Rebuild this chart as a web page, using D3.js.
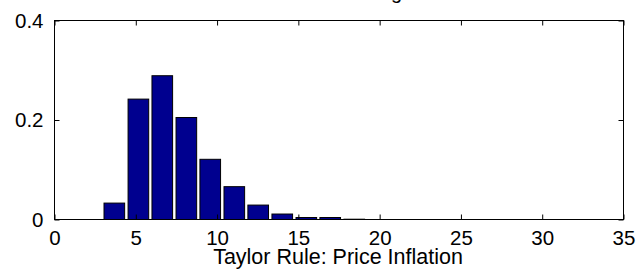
<!DOCTYPE html>
<html>
<head>
<meta charset="utf-8">
<script src="https://cdn.jsdelivr.net/npm/d3@7"></script>
<style>
  body { margin: 0; background: #fff; }
  svg text { font-family: "Liberation Sans", Arial, sans-serif; fill: #000; }
</style>
</head>
<body>
<div id="hist-chart"></div>
<script>
// histogram bins (centres) and relative frequencies
var binCenters = [3.68, 5.16, 6.63, 8.11, 9.58, 11.06, 12.53, 14.01, 15.49, 16.96,
                  18.44, 19.91, 21.39, 22.86, 24.34, 25.82, 27.29, 28.77, 30.24, 31.72];
var frequencies = [0.033, 0.242, 0.289, 0.205, 0.121, 0.066, 0.029, 0.011, 0.004, 0.004,
                   0.0006, 0, 0, 0, 0, 0, 0, 0, 0, 0];
var xTicks = [0, 5, 10, 15, 20, 25, 30, 35];
var yTicks = [0, 0.2, 0.4];
var titleText = "Price Level Target";
var xLabelText = "Taylor Rule: Price Inflation";

var width = 637, height = 272;
var margin = {top: 20.5, right: 13.5, bottom: 52.5, left: 54.5};
var binStep = 1.4756;

var svg = d3.select("#hist-chart").append("svg")
    .attr("width", width)
    .attr("height", height);

var x = d3.scaleLinear().domain([0, 35]).range([margin.left, width - margin.right]);
var y = d3.scaleLinear().domain([0, 0.4]).range([height - margin.bottom, margin.top]);

// bars
svg.selectAll("rect.bar")
    .data(binCenters)
    .enter()
    .append("rect")
    .attr("class", "bar")
    .attr("x", function(d) { return x(d - binStep * 0.43); })
    .attr("width", function(d) { return x(binStep * 0.86) - x(0); })
    .attr("y", function(d, i) { return y(frequencies[i]); })
    .attr("height", function(d, i) { return y(0) - y(frequencies[i]); })
    .attr("fill", "#00008f")
    .attr("stroke", "#000")
    .attr("stroke-width", 1);

// axes (matlab style: ticks inward, on all sides)
var tickLen = 5;
var xAxisBottom = d3.axisBottom(x).tickValues(xTicks).tickSize(-tickLen).tickPadding(tickLen + 6);
var xAxisTop = d3.axisTop(x).tickValues(xTicks).tickSize(-tickLen).tickFormat("");
var yAxisLeft = d3.axisLeft(y).tickValues(yTicks).tickSize(-tickLen).tickPadding(tickLen + 6)
    .tickFormat(function(d) { return d === 0 ? "0" : d3.format(".1f")(d); });
var yAxisRight = d3.axisRight(y).tickValues(yTicks).tickSize(-tickLen).tickFormat("");

function style(g) {
    g.select(".domain").attr("stroke", "#000").attr("stroke-width", 1);
    g.selectAll(".tick line").attr("stroke", "#000");
    g.selectAll(".tick text").attr("font-size", 20.5).attr("font-family", "Liberation Sans, Arial, sans-serif");
    g.attr("font-family", null).attr("font-size", null);
}

svg.append("g").attr("transform", "translate(0," + y(0) + ")").call(xAxisBottom).call(style)
    .selectAll(".tick text").attr("dy", "0.71em");
svg.append("g").attr("transform", "translate(0," + y(0.4) + ")").call(xAxisTop).call(style);
svg.append("g").attr("transform", "translate(" + x(0) + ",0)").call(yAxisLeft).call(style);
svg.append("g").attr("transform", "translate(" + x(35) + ",0)").call(yAxisRight).call(style);

// outer box edges (hide the d3 end caps by redrawing plain lines)
svg.selectAll(".domain").attr("d", null);
svg.append("rect")
    .attr("x", x(0))
    .attr("y", y(0.4))
    .attr("width", x(35) - x(0))
    .attr("height", y(0) - y(0.4))
    .attr("fill", "none")
    .attr("stroke", "#000");

// title (mostly cut off at the top of the picture)
svg.append("text")
    .attr("x", (x(0) + x(35)) / 2)
    .attr("y", -1)
    .attr("text-anchor", "middle")
    .attr("font-size", 20)
    .text(titleText);

// x label, overlapping the tick labels as in the original
svg.append("text")
    .attr("x", 338)
    .attr("y", 264)
    .attr("text-anchor", "middle")
    .attr("font-size", 21.5)
    .text(xLabelText);
</script>
</body>
</html>
